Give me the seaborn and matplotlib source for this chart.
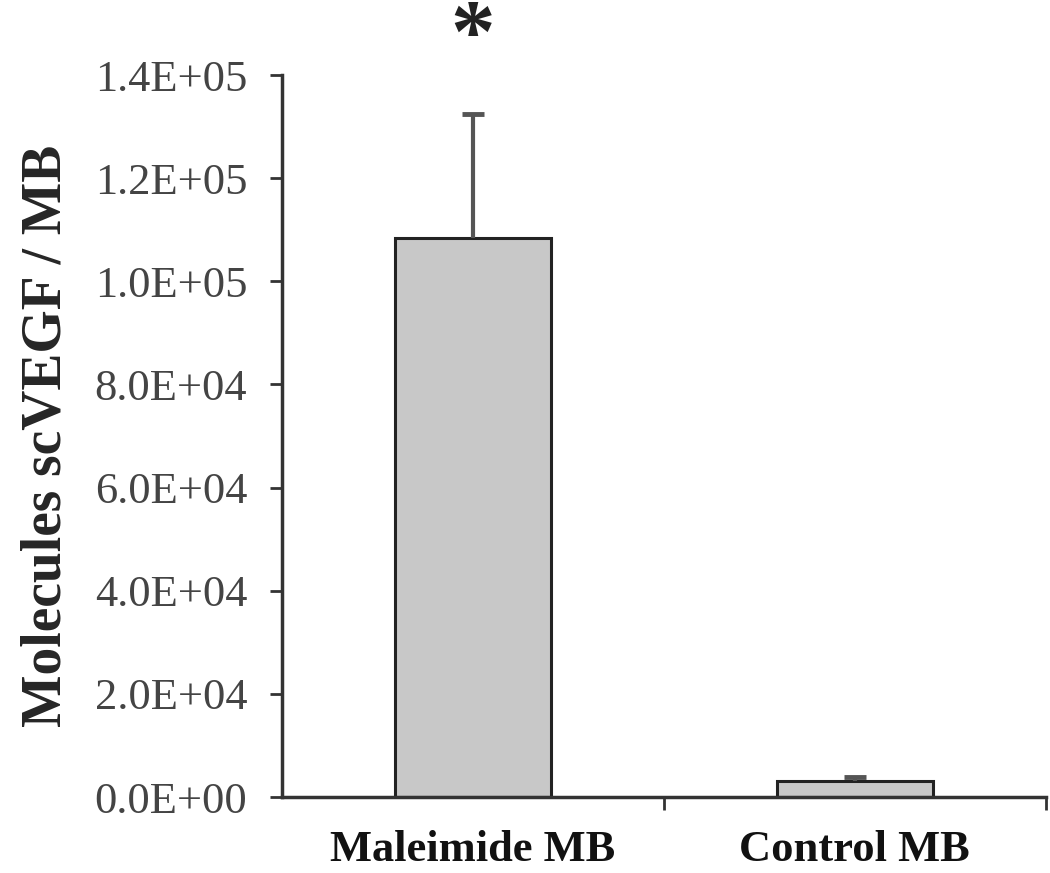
import numpy as np
import pandas as pd
import matplotlib
matplotlib.use("Agg")
import matplotlib.pyplot as plt
import seaborn as sns

groups = ["Maleimide MB", "Control MB"]
means = [1.085e5, 3.2e3]
errors = [2.4e4, 700]
y_ticks = [0, 2e4, 4e4, 6e4, 8e4, 1e5, 1.2e5, 1.4e5]
y_tick_labels = ["0.0E+00", "2.0E+04", "4.0E+04", "6.0E+04", "8.0E+04",
                 "1.0E+05", "1.2E+05", "1.4E+05"]

df = pd.DataFrame({"group": groups, "value": means})

sns.set_style("white")
plt.rcParams["font.family"] = ["Liberation Serif", "DejaVu Serif"]

fig = plt.figure(figsize=(10.5, 8.73), dpi=100)
ax = fig.add_axes([0.2686, 0.087, 0.7274, 0.827])

sns.barplot(data=df, x="group", y="value", color="#c8c8c8", width=0.41,
            edgecolor="#222222", linewidth=2.2, saturation=1, errorbar=None, ax=ax)

# upper-only error bars, drop the cap sitting on the bar top
_, caps, _ = ax.errorbar(x=np.arange(len(groups)), y=means,
                         yerr=[np.zeros(len(errors)), errors],
                         fmt="none", ecolor="#555555", elinewidth=3,
                         capsize=8, capthick=3.5, zorder=3)
for c in caps:
    if np.allclose(c.get_ydata(), means):
        c.set_visible(False)

ax.text(0, 1.47e5, "*", ha="center", va="center", fontsize=64, fontweight="bold",
        color="#222222", clip_on=False)

ax.set_xlim(-0.5, 1.5)
ax.set_ylim(0, 1.4e5)
ax.set_yticks(y_ticks)
ax.set_yticklabels(y_tick_labels, fontsize=32, color="#444444")
ax.set_xticks([0, 1])
ax.set_xticklabels(groups, fontsize=32, fontweight="bold", color="#111111")
ax.set_xticks([0.5, 1.5], minor=True)
ax.tick_params(axis="x", which="major", bottom=True, length=0, pad=24)
ax.tick_params(axis="x", which="minor", bottom=True, length=9, width=2,
               color="#333333", direction="out")
ax.tick_params(axis="y", left=True, length=9, width=2, color="#333333",
               direction="out", pad=16)

ax.set_xlabel("")
ax.set_ylabel("Molecules scVEGF / MB", fontsize=40, fontweight="bold", labelpad=16)

sns.despine(ax=ax)
for s in ["left", "bottom"]:
    ax.spines[s].set_linewidth(2.5)
    ax.spines[s].set_color("#333333")

fig.savefig("out.png", dpi=100)
